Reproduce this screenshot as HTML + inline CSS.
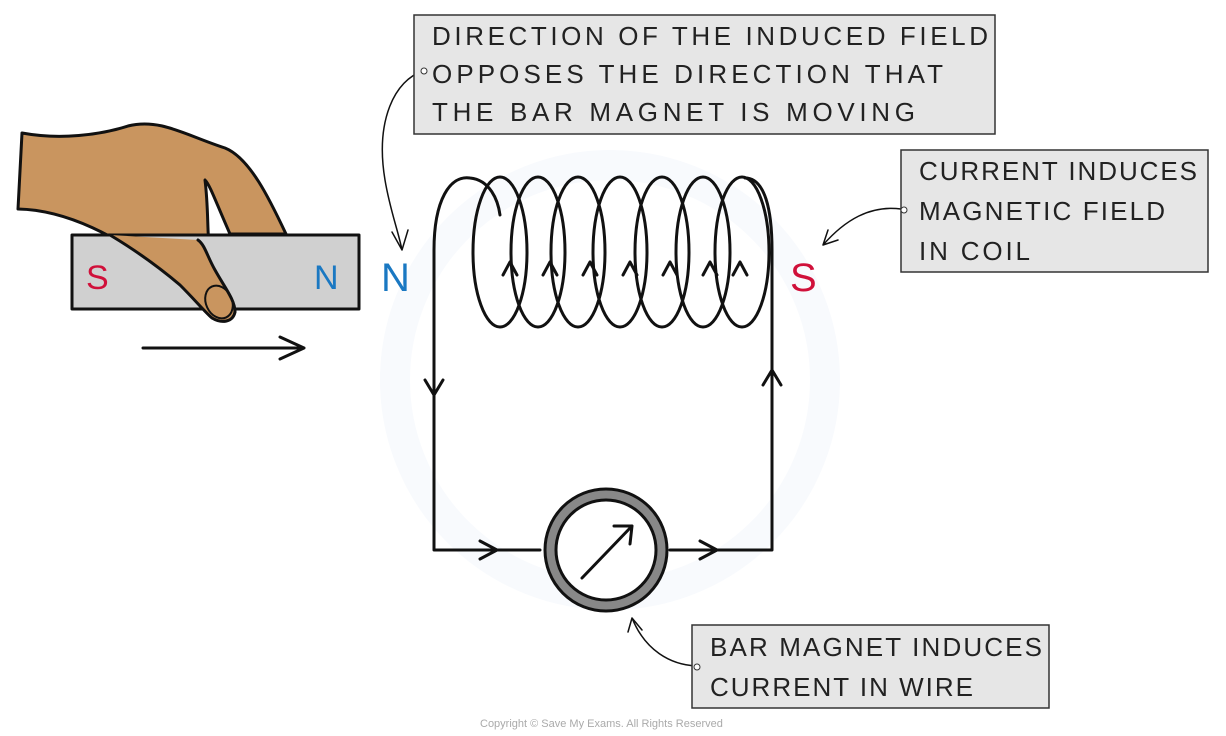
<!DOCTYPE html>
<html><head><style>
body{margin:0;background:#fff;}
svg{display:block;}
text{font-family:"Liberation Sans",sans-serif;}
.lb{font-size:26px;fill:#222;}
</style></head><body>
<svg width="1226" height="736" viewBox="0 0 1226 736">
<!-- faint watermark -->
<circle cx="610" cy="380" r="215" fill="none" stroke="#f8fafd" stroke-width="30"/>
<g fill="none" stroke="#111" stroke-width="3" stroke-linecap="round" stroke-linejoin="round">
<!-- hand -->
<path d="M22 133 C60 140 100 135 128 126 C160 118 185 135 225 148 C250 158 270 200 286 234 L230 234 C215 200 210 185 205 180 C210 220 205 250 215 270 C225 288 235 300 235 312 C232 322 220 323 210 316 C195 300 175 280 150 262 C120 240 70 210 18 209 Z" fill="#c9955f"/>
<!-- bar magnet -->
<rect x="72" y="235" width="287" height="74" fill="#d0d0d0"/>
<path d="M110 235 C135 250 160 268 180 285 C195 300 205 312 212 318 C222 324 233 322 235 312 C235 300 225 288 215 270 C207 256 205 245 198 240" fill="#c9955f"/>
<ellipse cx="219" cy="302" rx="13" ry="17" transform="rotate(-25 219 302)" stroke-width="2"/>
<!-- motion arrow -->
<path d="M143 348 L304 348 M280 337 L304 348 L280 359"/>
<!-- coil -->
<path d="M434 395 L434 250 C434 200 450 175 470 178 C490 180 498 200 500 215"/>
<path d="M745 178 C765 178 772 210 772 250 L772 550 L670 550"/>
<path d="M434 395 L434 550 L540 550"/>
<g>
<ellipse cx="500" cy="252" rx="27" ry="75"/>
<ellipse cx="538" cy="252" rx="27" ry="75"/>
<ellipse cx="578" cy="252" rx="27" ry="75"/>
<ellipse cx="620" cy="252" rx="27" ry="75"/>
<ellipse cx="662" cy="252" rx="27" ry="75"/>
<ellipse cx="703" cy="252" rx="27" ry="75"/>
<ellipse cx="742" cy="252" rx="27" ry="75"/>
</g>
<path d="M503 275 L510 262 L517 275 M543 275 L550 262 L557 275 M583 275 L590 262 L597 275 M623 275 L630 262 L637 275 M663 275 L670 262 L677 275 M703 275 L710 262 L717 275 M733 275 L740 262 L747 275"/>
<path d="M425 380 L434 395 L443 380"/>
<path d="M763 385 L772 370 L781 385"/>
<path d="M480 541 L497 550 L480 559"/>
<path d="M700 541 L717 550 L700 559"/>
<!-- ammeter -->
<circle cx="606" cy="550" r="61" fill="#888" stroke="#111"/>
<circle cx="606" cy="550" r="50" fill="#fff" stroke="#111"/>
<path d="M582 578 L632 526 M614 526 L632 526 L630 544"/>
<!-- callout leaders -->
<path d="M423 71 C395 80 375 120 385 180 C390 210 398 230 402 250 M392 232 L402 250 L408 230" stroke-width="1.5"/>
<path d="M901 209 C870 205 845 220 823 245 M828 230 L823 245 L838 240" stroke-width="1.5"/>
<path d="M697 666 C670 665 645 650 632 618 M628 632 L632 618 L642 630" stroke-width="1.5"/>
</g>
<text x="86" y="289" font-size="34" fill="#d0103a">S</text>
<text x="314" y="289" font-size="34" fill="#1a78c2">N</text>
<text x="381" y="291" font-size="40" fill="#1a78c2">N</text>
<text x="790" y="291" font-size="40" fill="#d0103a">S</text>
<rect x="414" y="15" width="581" height="119" fill="#e6e6e6" stroke="#333" stroke-width="1.5"/>
<circle cx="424" cy="71" r="3" fill="#fff" stroke="#333"/>
<text class="lb" x="432" y="45" textLength="556" lengthAdjust="spacing">DIRECTION OF THE INDUCED FIELD</text>
<text class="lb" x="432" y="83" textLength="511" lengthAdjust="spacing">OPPOSES THE DIRECTION THAT</text>
<text class="lb" x="432" y="121" textLength="483" lengthAdjust="spacing">THE BAR MAGNET IS MOVING</text>
<rect x="901" y="150" width="307" height="122" fill="#e6e6e6" stroke="#333" stroke-width="1.5"/>
<circle cx="904" cy="210" r="3" fill="#fff" stroke="#333"/>
<text class="lb" x="919" y="180" textLength="278" lengthAdjust="spacing">CURRENT INDUCES</text>
<text class="lb" x="919" y="220" textLength="246" lengthAdjust="spacing">MAGNETIC FIELD</text>
<text class="lb" x="919" y="260" textLength="111" lengthAdjust="spacing">IN COIL</text>
<rect x="692" y="625" width="357" height="83" fill="#e6e6e6" stroke="#333" stroke-width="1.5"/>
<circle cx="697" cy="667" r="3" fill="#fff" stroke="#333"/>
<text class="lb" x="710" y="656" textLength="332" lengthAdjust="spacing">BAR MAGNET INDUCES</text>
<text class="lb" x="710" y="696" textLength="263" lengthAdjust="spacing">CURRENT IN WIRE</text>
<text x="480" y="727" font-size="11" fill="#aaa">Copyright © Save My Exams. All Rights Reserved</text>
</svg>
</body></html>
